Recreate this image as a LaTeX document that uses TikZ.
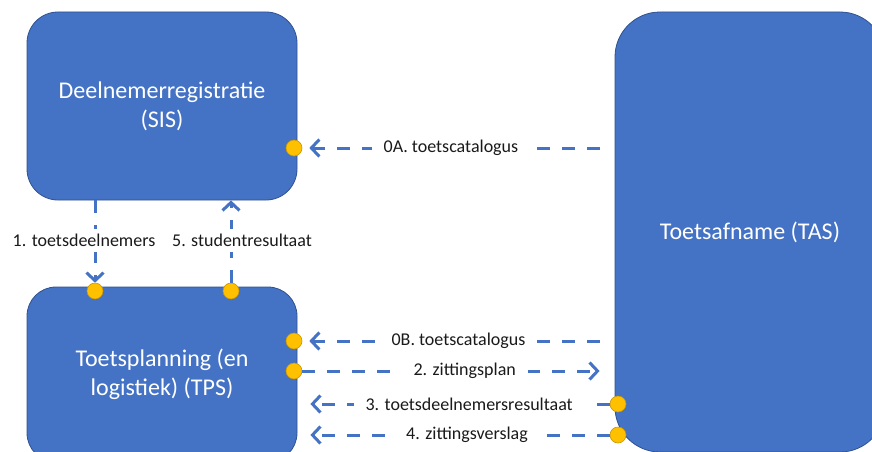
\documentclass[tikz,border=0pt]{standalone}
\usepackage{fontspec}
\setmainfont{Carlito}
\usetikzlibrary{arrows.meta}
\definecolor{boxblue}{HTML}{4472C4}
\definecolor{boxline}{HTML}{2F528F}
\definecolor{portfill}{HTML}{FFC000}
\definecolor{portline}{HTML}{C99700}
\definecolor{labeltext}{HTML}{1A1A1A}

\begin{document}
\begin{tikzpicture}[x=1pt,y=-1pt,
  sysbox/.style={draw=boxline,fill=boxblue,line width=0.8pt,text=white,align=center,inner sep=0pt,
    minimum width=270pt,font=\fontsize{24}{29}\selectfont},
  port/.style={draw=portline,fill=portfill,shape=circle,inner sep=0pt,minimum size=16pt,line width=0.6pt},
  flow/.style={draw=boxblue,line width=3pt,dash pattern=on 13pt off 12pt,-{Straight Barb[length=8pt,width=17pt]}},
  lbl/.style={fill=white,text=labeltext,inner xsep=12pt,inner ysep=5pt,font=\fontsize{18}{22}\selectfont}]
  \useasboundingbox (0,0) rectangle (872,452);
  \path (162,106) node[sysbox,rounded corners=31pt,minimum height=188pt] (sis) {Deelnemerregistratie\\(SIS)}
  (162,374.5) node[sysbox,rounded corners=29pt,minimum height=175pt] (tps) {Toetsplanning (en\\logistiek) (TPS)}
  (750,232) node[sysbox,rounded corners=45pt,minimum height=440pt] (tas) {Toetsafname (TAS)};
  \path (294,148) node[port] (sisport) {} (95,291) node[port] (tpsin) {} (231,291) node[port] (tpsout) {}
  (294,341) node[port] (tpscat) {} (294,371) node[port] (tpsplan) {}
  (618,404) node[port] (tasres) {} (618,435) node[port] (tasverslag) {};
  \draw[flow,shorten <=15pt,shorten >=7pt] (tas.west |- sisport) -- (sisport) node[lbl,pos=.524] {0A. toetscatalogus};
  \draw[flow] (sis.south -| tpsin) -- (tpsin) node[lbl,pos=.49,xshift=-11pt] {1. toetsdeelnemers};
  \draw[flow] (tpsout) -- (sis.south -| tpsout) node[lbl,pos=.51,xshift=11pt] {5. studentresultaat};
  \draw[flow,shorten <=15pt,shorten >=7pt] (tas.west |- tpscat) -- (tpscat) node[lbl,pos=.5] {0B. toetscatalogus};
  \draw[flow,shorten >=15pt] (tpsplan) -- (tas.west |- tpsplan) node[lbl,pos=.52] {2. zittingsplan};
  \draw[flow,shorten >=13pt] (tasres) -- (tps.east |- tasres) node[lbl,pos=.45] {3. toetsdeelnemersresultaat};
  \draw[flow,shorten >=13pt] (tasverslag) -- (tps.east |- tasverslag) node[lbl,pos=.457] {4. zittingsverslag};
  \end{tikzpicture}
\end{document}
